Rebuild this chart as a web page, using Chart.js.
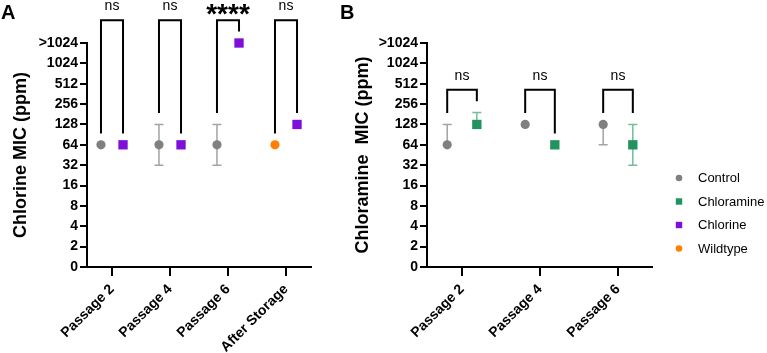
<!DOCTYPE html>
<html>
<head>
<meta charset="utf-8">
<script src="https://cdn.jsdelivr.net/npm/chart.js@4"></script>
<style>
  body { margin: 0; background: #fff; }
  #wrap { position: relative; width: 767px; height: 353px; }
  canvas { position: absolute; top: 0; }
  #chartA { left: 0; }
  #chartB { left: 335px; }
</style>
</head>
<body>
<div id="wrap">
  <canvas id="chartA" width="340" height="353"></canvas>
  <canvas id="chartB" width="432" height="353"></canvas>
</div>
<script>
// MIC values in ppm, 2048 stands for the ">1024" row
const yTickLabels = ['0', '2', '4', '8', '16', '32', '64', '128', '256', '512', '1024', '>1024'];

const catsA = ['Passage 2', 'Passage 4', 'Passage 6', 'After Storage'];
const controlA = [64, 64, 64, null];
const controlALo = [64, 32, 32, null];
const controlAHi = [64, 128, 128, null];
const chlorineA = [64, 64, 2048, 128];
const wildtypeA = [null, null, null, 64];
const sigA = ['ns', 'ns', '****', 'ns'];

const catsB = ['Passage 2', 'Passage 4', 'Passage 6'];
const controlB = [64, 128, 128];
const controlBLo = [64, 128, 64];
const controlBHi = [128, 128, 128];
const chloramineB = [128, 64, 64];
const chloramineBLo = [128, 64, 32];
const chloramineBHi = [192, 64, 128];
const sigB = ['ns', 'ns', 'ns'];

const legendNames = ['Control', 'Chloramine', 'Chlorine', 'Wildtype'];

// styles
const COL = {
  control: '#808080',
  controlErr: '#a3a3a3',
  chloramine: '#22925f',
  chloramineErr: '#6fbf98',
  chlorine: '#7f0fd8',
  wildtype: '#ff8000'
};
const FONT = '"Liberation Sans", Arial, Helvetica, sans-serif';
const DODGE = 0.19; // half distance between the two points of a group (x units)
const GAP = 0.56;   // space between point / error bar and bracket leg (y units)

Chart.defaults.font.family = FONT;
Chart.defaults.color = '#000';

// position on the log2 axis
const lg = v => (v > 0 ? Math.log2(v) : 0);

function points(vals, dx) {
  return vals
    .map((v, i) => (v == null ? null : { x: i + dx, y: lg(v) }))
    .filter(p => p);
}

// error bars (under the points) + significance brackets + panel letter
const annotations = {
  id: 'annotations',
  beforeDatasetsDraw(chart, args, opts) {
    const { ctx } = chart;
    const x = chart.scales.x, y = chart.scales.y;
    ctx.save();
    ctx.lineWidth = 1.5;
    opts.errors.forEach(s => {
      ctx.strokeStyle = s.color;
      s.vals.forEach((v, i) => {
        if (v == null) return;
        const lo = s.lo[i], hi = s.hi[i];
        if (lo === hi) return;
        const px = x.getPixelForValue(i + s.dx);
        const yLo = y.getPixelForValue(lg(lo));
        const yHi = y.getPixelForValue(lg(hi));
        ctx.beginPath();
        ctx.moveTo(px, yLo);
        ctx.lineTo(px, yHi);
        if (lo < v) { ctx.moveTo(px - 4.5, yLo); ctx.lineTo(px + 4.5, yLo); }
        if (hi > v) { ctx.moveTo(px - 4.5, yHi); ctx.lineTo(px + 4.5, yHi); }
        ctx.stroke();
      });
    });
    ctx.restore();
  },
  afterDraw(chart, args, opts) {
    const { ctx } = chart;
    const x = chart.scales.x, y = chart.scales.y;
    const legL = opts.leftHi.map(v => lg(v) + GAP);
    const legR = opts.rightHi.map(v => lg(v) + GAP);
    const top = Math.max(...legL, ...legR) + GAP;
    const yt = y.getPixelForValue(top);
    ctx.save();
    ctx.strokeStyle = '#000';
    ctx.lineWidth = 2;
    ctx.lineJoin = 'miter';
    ctx.fillStyle = '#000';
    ctx.textAlign = 'center';
    opts.labels.forEach((label, i) => {
      const xl = x.getPixelForValue(i - DODGE);
      const xr = x.getPixelForValue(i + DODGE);
      ctx.beginPath();
      ctx.moveTo(xl, y.getPixelForValue(legL[i]));
      ctx.lineTo(xl, yt);
      ctx.lineTo(xr, yt);
      ctx.lineTo(xr, y.getPixelForValue(legR[i]));
      ctx.stroke();
      if (label === 'ns') {
        ctx.font = '14px ' + FONT;
        ctx.fillText(label, (xl + xr) / 2, yt - 10);
      } else {
        ctx.font = 'bold 28px ' + FONT;
        ctx.fillText(label, (xl + xr) / 2, yt + 3);
      }
    });
    ctx.font = 'bold 20px ' + FONT;
    ctx.textAlign = 'left';
    ctx.fillText(opts.panel, opts.panelX, 19);
    ctx.restore();
  }
};

// legend for both panels, drawn at the right of panel B
const sideLegend = {
  id: 'sideLegend',
  afterDraw(chart, args, opts) {
    if (!opts.items) return;
    const { ctx } = chart;
    ctx.save();
    ctx.font = '13px ' + FONT;
    ctx.textBaseline = 'middle';
    ctx.textAlign = 'left';
    opts.items.forEach((it, i) => {
      const cy = opts.y + i * opts.step;
      ctx.fillStyle = it.color;
      if (it.style === 'circle') {
        ctx.beginPath();
        ctx.arc(opts.x, cy, 3.3, 0, Math.PI * 2);
        ctx.fill();
      } else {
        ctx.fillRect(opts.x - 3.2, cy - 3.2, 6.4, 6.4);
      }
      ctx.fillStyle = '#000';
      ctx.fillText(it.name, opts.x + 19, cy + 0.5);
    });
    ctx.restore();
  }
};

function scatterSet(label, data, color, style) {
  return {
    label,
    data,
    backgroundColor: color,
    borderColor: color,
    borderWidth: 0,
    pointStyle: style,
    pointRadius: style === 'circle' ? 4.6 : 6.6,
    pointHoverRadius: style === 'circle' ? 4.6 : 6.6,
    showLine: false,
    clip: false
  };
}

function buildOptions(cats, title, yWidth, titlePad, padRight, edge) {
  return {
    responsive: false,
    animation: false,
    events: [],
    layout: { padding: { top: 43, right: padRight, bottom: 0, left: 0 } },
    plugins: {
      legend: { display: false },
      tooltip: { enabled: false }
    },
    scales: {
      x: {
        type: 'linear',
        min: -edge[0],
        max: cats.length - 1 + edge[1],
        afterBuildTicks: s => { s.ticks = cats.map((c, i) => ({ value: i })); },
        afterFit: s => { s.height = 86; },
        ticks: {
          autoSkip: false,
          minRotation: 45,
          maxRotation: 45,
          padding: 5,
          font: { size: 14, weight: 'bold' },
          callback: v => cats[v]
        },
        grid: { drawOnChartArea: false, tickLength: 9, color: '#000', lineWidth: 2 },
        border: { color: '#000', width: 2 }
      },
      y: {
        type: 'linear',
        min: 0,
        max: 11,
        afterFit: s => { s.width = yWidth; },
        ticks: {
          stepSize: 1,
          padding: 2,
          font: { size: 14, weight: 'bold' },
          callback: v => yTickLabels[v]
        },
        grid: { drawOnChartArea: false, tickLength: 7, color: '#000', lineWidth: 2 },
        border: { color: '#000', width: 2 },
        title: {
          display: true,
          text: title,
          font: { size: 18, weight: 'bold' },
          padding: { top: titlePad, bottom: 0 }
        }
      }
    }
  };
}

// ---- panel A ----
const optsA = buildOptions(catsA, 'Chlorine MIC (ppm)', 87, 10, 29, [0.431, 0.431]);
optsA.plugins.annotations = {
  errors: [{ vals: controlA, lo: controlALo, hi: controlAHi, dx: -DODGE, color: COL.controlErr }],
  leftHi: catsA.map((c, i) => controlAHi[i] ?? wildtypeA[i]),
  rightHi: chlorineA,
  labels: sigA,
  panel: 'A',
  panelX: 1
};
new Chart(document.getElementById('chartA'), {
  type: 'scatter',
  data: {
    datasets: [
      scatterSet('Control', points(controlA, -DODGE), COL.control, 'circle'),
      scatterSet('Chlorine', points(chlorineA, DODGE), COL.chlorine, 'rect'),
      scatterSet('Wildtype', points(wildtypeA, -DODGE), COL.wildtype, 'circle')
    ]
  },
  options: optsA,
  plugins: [annotations]
});

// ---- panel B ----
const optsB = buildOptions(catsB, 'Chloramine  MIC (ppm)', 92, 17, 115, [0.449, 0.436]);
optsB.plugins.annotations = {
  errors: [
    { vals: controlB, lo: controlBLo, hi: controlBHi, dx: -DODGE, color: COL.controlErr },
    { vals: chloramineB, lo: chloramineBLo, hi: chloramineBHi, dx: DODGE, color: COL.chloramineErr }
  ],
  leftHi: controlBHi,
  rightHi: chloramineBHi,
  labels: sigB,
  panel: 'B',
  panelX: 5
};
optsB.plugins.sideLegend = {
  x: 344,
  y: 178,
  step: 23.5,
  items: [
    { name: legendNames[0], color: COL.control, style: 'circle' },
    { name: legendNames[1], color: COL.chloramine, style: 'rect' },
    { name: legendNames[2], color: COL.chlorine, style: 'rect' },
    { name: legendNames[3], color: COL.wildtype, style: 'circle' }
  ]
};
new Chart(document.getElementById('chartB'), {
  type: 'scatter',
  data: {
    datasets: [
      scatterSet('Control', points(controlB, -DODGE), COL.control, 'circle'),
      scatterSet('Chloramine', points(chloramineB, DODGE), COL.chloramine, 'rect')
    ]
  },
  options: optsB,
  plugins: [annotations, sideLegend]
});
</script>
</body>
</html>
